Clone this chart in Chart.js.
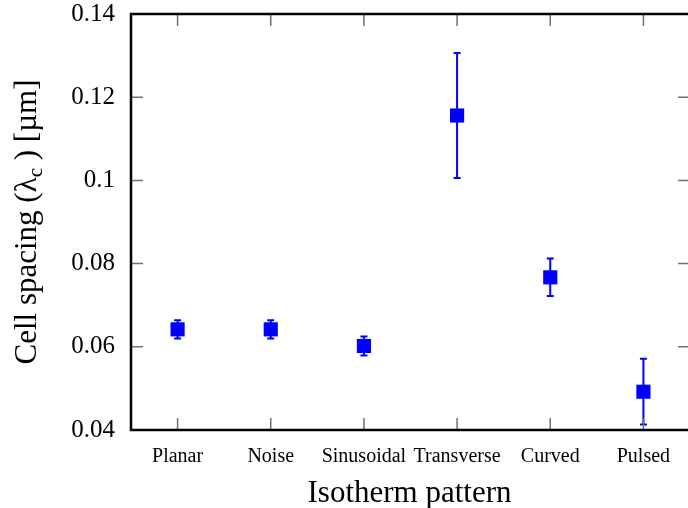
<!DOCTYPE html>
<html>
<head>
<meta charset="utf-8">
<script src="https://cdn.jsdelivr.net/npm/chart.js@4"></script>
<style>
  html, body { margin: 0; padding: 0; background: #fff; overflow: hidden; }
</style>
</head>
<body>
<canvas id="c" width="688" height="508"></canvas>
<script>
// Isotherm patterns and the measured cell spacing (mean and half-width of the error bar)
const categories = ['Planar', 'Noise', 'Sinusoidal', 'Transverse', 'Curved', 'Pulsed'];
const spacing = [0.0642, 0.0642, 0.0602, 0.1156, 0.0767, 0.0492];
const spacingErr = [0.0022, 0.0022, 0.0023, 0.0150, 0.0045, 0.0079];
const yTickValues = [0.04, 0.06, 0.08, 0.10, 0.12, 0.14];
const yTickLabels = ['0.04', '0.06', '0.08', '0.1', '0.12', '0.14'];

const SERIF = '"Liberation Serif", "Times New Roman", serif';
const BLUE = '#0000ff';
const X_LO = -0.5, X_HI = categories.length - 0.5;   // frame edges, half a slot outside the first/last category

// Vertical error bars with short caps, drawn under the markers
const errorBars = {
  id: 'errorBars',
  beforeDatasetsDraw(chart) {
    const { ctx, scales: { x, y } } = chart;
    ctx.save();
    ctx.strokeStyle = BLUE;
    ctx.lineWidth = 2;
    spacing.forEach((v, i) => {
      const px = x.getPixelForValue(i);
      const top = y.getPixelForValue(v + spacingErr[i]);
      const bot = y.getPixelForValue(v - spacingErr[i]);
      ctx.beginPath();
      ctx.moveTo(px, top); ctx.lineTo(px, bot);
      ctx.moveTo(px - 3.5, top); ctx.lineTo(px + 3.5, top);
      ctx.moveTo(px - 3.5, bot); ctx.lineTo(px + 3.5, bot);
      ctx.stroke();
    });
    ctx.restore();
  }
};

// Box frame with inward tick marks on all four sides
const frame = {
  id: 'frame',
  afterDatasetsDraw(chart) {
    const { ctx, chartArea: a, scales: { x, y } } = chart;
    const len = 12;
    const left = x.getPixelForValue(X_LO), right = x.getPixelForValue(X_HI);
    ctx.save();
    ctx.strokeStyle = '#707070';
    ctx.lineWidth = 1.5;
    ctx.beginPath();
    yTickValues.forEach(v => {
      const py = y.getPixelForValue(v);
      ctx.moveTo(left, py); ctx.lineTo(left + len, py);
      ctx.moveTo(right, py); ctx.lineTo(right - len, py);
    });
    categories.forEach((c, i) => {
      const px = x.getPixelForValue(i);
      ctx.moveTo(px, a.bottom); ctx.lineTo(px, a.bottom - len);
      ctx.moveTo(px, a.top); ctx.lineTo(px, a.top + len);
    });
    ctx.stroke();
    ctx.strokeStyle = '#000';
    ctx.lineWidth = 2.5;
    ctx.strokeRect(left, a.top, right - left, a.bottom - a.top);
    ctx.restore();
  }
};

// Rotated y-axis title with a subscript c
const yTitle = {
  id: 'yTitle',
  afterDraw(chart) {
    const { ctx, chartArea: a } = chart;
    const big = 31, small = 21;
    const parts = [
      { t: 'Cell spacing (\u03bb', s: big, dy: 0 },
      { t: 'c', s: small, dy: 6 },
      { t: ' ) [\u00b5m]', s: big, dy: 0 }
    ];
    ctx.save();
    ctx.translate(36, (a.top + a.bottom) / 2);
    ctx.rotate(-Math.PI / 2);
    ctx.fillStyle = '#000';
    ctx.textBaseline = 'alphabetic';
    ctx.textAlign = 'left';
    let total = 0;
    parts.forEach(p => { ctx.font = p.s + 'px ' + SERIF; p.w = ctx.measureText(p.t).width; total += p.w; });
    let cx = -total / 2;
    parts.forEach(p => {
      ctx.font = p.s + 'px ' + SERIF;
      ctx.fillText(p.t, cx, p.dy);
      cx += p.w;
    });
    ctx.restore();
  }
};

new Chart(document.getElementById('c'), {
  type: 'line',
  data: {
    datasets: [{
      data: spacing.map((v, i) => ({ x: i, y: v })),
      showLine: false,
      pointStyle: 'rect',
      pointRadius: 10,
      pointHoverRadius: 10,
      pointBackgroundColor: BLUE,
      pointBorderColor: BLUE,
      pointBorderWidth: 0
    }]
  },
  options: {
    responsive: false,
    animation: false,
    events: [],
    layout: { padding: 0, autoPadding: false },
    plugins: { legend: { display: false }, tooltip: { enabled: false } },
    scales: {
      x: {
        type: 'linear',
        min: X_LO,
        // the right-hand frame edge sits just past the canvas edge
        max: X_HI - 0.0215,
        grid: { display: false },
        border: { display: false },
        afterBuildTicks(s) { s.ticks = categories.map((c, i) => ({ value: i })); },
        ticks: {
          color: '#000', font: { family: SERIF, size: 20 }, padding: 7, maxRotation: 0, autoSkip: false,
          callback: (v) => categories[v]
        },
        title: { display: true, text: 'Isotherm pattern', color: '#000', font: { family: SERIF, size: 31, lineHeight: 1.0 }, padding: { top: 0, bottom: -1 } },
        afterFit(s) { s.height = 78; s.paddingLeft = 0; s.paddingRight = 0; }
      },
      y: {
        min: 0.04,
        max: 0.14,
        grid: { display: true, drawOnChartArea: false, drawTicks: true, tickLength: 16, color: 'rgba(0,0,0,0)' },
        border: { display: false },
        afterBuildTicks(s) { s.ticks = yTickValues.map(v => ({ value: v })); },
        ticks: {
          color: '#000',
          font: { family: SERIF, size: 25, lineHeight: 1.12 },
          padding: 0,
          callback: (v, i) => yTickLabels[i]
        },
        afterFit(s) { s.width = 131; s.paddingTop = 14; s.paddingBottom = 0; }
      }
    }
  },
  plugins: [errorBars, frame, yTitle]
});
</script>
</body>
</html>
